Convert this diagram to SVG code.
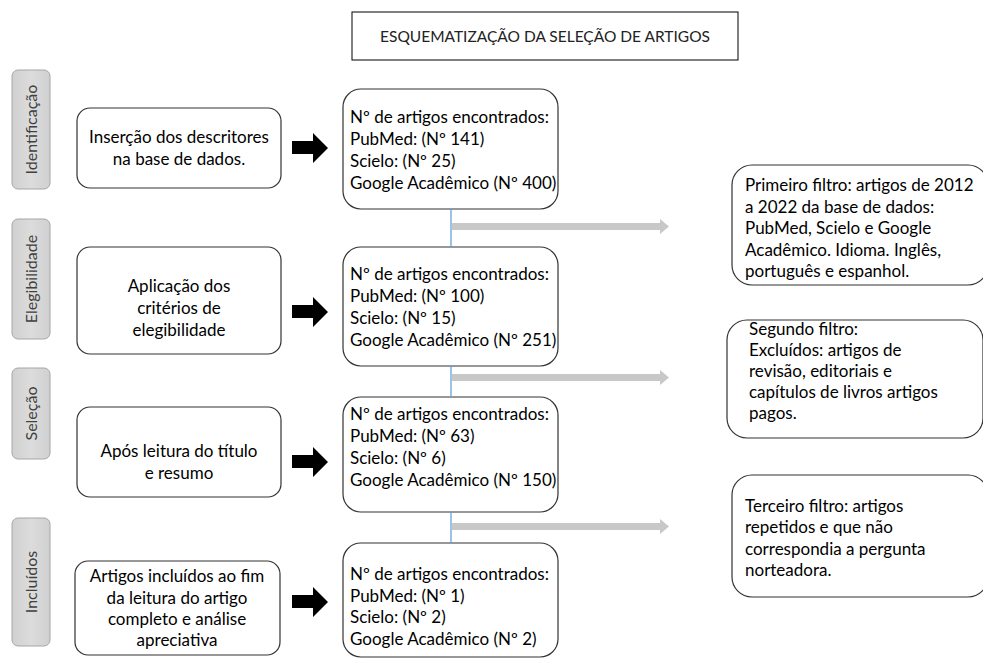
<svg xmlns="http://www.w3.org/2000/svg" width="983" height="660" viewBox="0 0 983 660">
<defs>
<linearGradient id="lg" x1="0" y1="0" x2="1" y2="0">
<stop offset="0" stop-color="#d0d0d0"/><stop offset="0.5" stop-color="#dcdcdc"/><stop offset="1" stop-color="#d0d0d0"/>
</linearGradient>
</defs>
<style>
text{font-family:Lato,"Liberation Sans",sans-serif;font-size:17px;fill:#000}
.lab{fill:url(#lg);stroke:#a6a6a6;stroke-width:1}
.lt{fill:#404040;font-size:16px}
.box{fill:#fff;stroke:#333;stroke-width:1.2}
.c{text-anchor:middle}
.blk{fill:#000}
.gr{fill:#c8c8c8}
.bl{stroke:#5b9bd5;stroke-width:1.2;fill:none}
</style>
<rect width="983" height="660" fill="#fff"/>
<g id="title">
<rect x="352" y="12" width="386" height="48" fill="#fff" stroke="#000" stroke-width="1"/>
<text x="545" y="42" class="c" style="font-size:15.5px;fill:#222">ESQUEMATIZAÇÃO DA SELEÇÃO DE ARTIGOS</text>
</g>
<g id="lab-identificacao"><rect class="lab" x="12" y="70" width="38" height="119" rx="6"/><text class="lt c" transform="translate(36.5,129.5) rotate(-90)">Identificação</text></g>
<g id="lab-elegibilidade"><rect class="lab" x="12" y="219" width="38" height="120" rx="6"/><text class="lt c" transform="translate(36.5,279) rotate(-90)">Elegibilidade</text></g>
<g id="lab-selecao"><rect class="lab" x="12" y="368" width="38" height="91" rx="6"/><text class="lt c" transform="translate(36.5,413.5) rotate(-90)">Seleção</text></g>
<g id="lab-incluidos"><rect class="lab" x="12" y="518" width="38" height="128" rx="6"/><text class="lt c" transform="translate(36.5,582) rotate(-90)">Incluídos</text></g>

<g id="left-1"><rect class="box" x="77" y="108" width="204" height="80" rx="13"/>
<text class="c" x="179" y="143">Inserção dos descritores</text><text class="c" x="179" y="165">na base de dados.</text></g>
<g id="left-2"><rect class="box" x="77" y="247" width="204" height="107" rx="13"/>
<text class="c" x="179" y="292">Aplicação dos</text><text class="c" x="179" y="314">critérios de</text><text class="c" x="179" y="336">elegibilidade</text></g>
<g id="left-3"><rect class="box" x="77" y="407" width="204" height="90" rx="13"/>
<text class="c" x="179" y="457">Após leitura do título</text><text class="c" x="179" y="479">e resumo</text></g>
<g id="left-4"><rect class="box" x="75" y="561" width="205" height="94" rx="13"/>
<text class="c" x="177" y="582">Artigos incluídos ao fim</text><text class="c" x="177" y="604">da leitura do artigo</text><text class="c" x="177" y="625">completo e análise</text><text class="c" x="177" y="646">apreciativa</text></g>

<g id="mid-1"><rect class="box" x="343" y="89" width="215" height="120" rx="18"/>
<text x="350" y="123">Nº de artigos encontrados:</text><text x="350" y="145">PubMed: (Nº 141)</text><text x="350" y="167">Scielo: (Nº 25)</text><text x="350" y="189">Google Acadêmico (Nº 400)</text></g>
<g id="mid-2"><rect class="box" x="343" y="247" width="215" height="119" rx="18"/>
<text x="350" y="280">Nº de artigos encontrados:</text><text x="350" y="302">PubMed: (Nº 100)</text><text x="350" y="324">Scielo: (Nº 15)</text><text x="350" y="346">Google Acadêmico (Nº 251)</text></g>
<g id="mid-3"><rect class="box" x="343" y="397" width="215" height="115" rx="18"/>
<text x="350" y="420">Nº de artigos encontrados:</text><text x="350" y="442">PubMed: (Nº 63)</text><text x="350" y="464">Scielo: (Nº 6)</text><text x="350" y="486">Google Acadêmico (Nº 150)</text></g>
<g id="mid-4"><rect class="box" x="343" y="543" width="215" height="114" rx="18"/>
<text x="350" y="580">Nº de artigos encontrados:</text><text x="350" y="602">PubMed: (Nº 1)</text><text x="350" y="623">Scielo: (Nº 2)</text><text x="350" y="645">Google Acadêmico (Nº 2)</text></g>

<g id="right-1"><rect class="box" x="732" y="165" width="256" height="120" rx="20"/>
<text x="745" y="191">Primeiro filtro: artigos de 2012</text><text x="745" y="213">a 2022 da base de dados:</text><text x="745" y="234">PubMed, Scielo e Google</text><text x="745" y="256">Acadêmico. Idioma. Inglês,</text><text x="745" y="277">português e espanhol.</text></g>
<g id="right-2"><rect class="box" x="727" y="320" width="256" height="118" rx="20"/>
<text x="749" y="335">Segundo filtro:</text><text x="749" y="356">Excluídos: artigos de</text><text x="749" y="377">revisão, editoriais e</text><text x="749" y="398">capítulos de livros artigos</text><text x="749" y="419">pagos.</text></g>
<g id="right-3"><rect class="box" x="732" y="475" width="256" height="122" rx="20"/>
<text x="745" y="512">Terceiro filtro: artigos</text><text x="745" y="533">repetidos e que não</text><text x="745" y="555">correspondia a pergunta</text><text x="745" y="576">norteadora.</text></g>

<g id="connectors">
<path class="blk" d="M292 141H313V133L328 148L313 163V154H292Z"/>
<path class="blk" d="M292 305H313V297L328 312L313 327V318H292Z"/>
<path class="blk" d="M292 455H313V447L328 462L313 477V468H292Z"/>
<path class="blk" d="M292 595H313V587L328 602L313 617V608H292Z"/>
<line class="bl" x1="451" y1="209" x2="451" y2="247"/>
<line class="bl" x1="451" y1="366" x2="451" y2="397"/>
<line class="bl" x1="451" y1="512" x2="451" y2="543"/>
<path class="gr" d="M452 223H660V219L669 226.5L660 234V230H452Z"/>
<path class="gr" d="M452 374H660V370L669 377.5L660 385V381H452Z"/>
<path class="gr" d="M452 523H660V519L669 526.5L660 534V530H452Z"/>
</g>
</svg>
